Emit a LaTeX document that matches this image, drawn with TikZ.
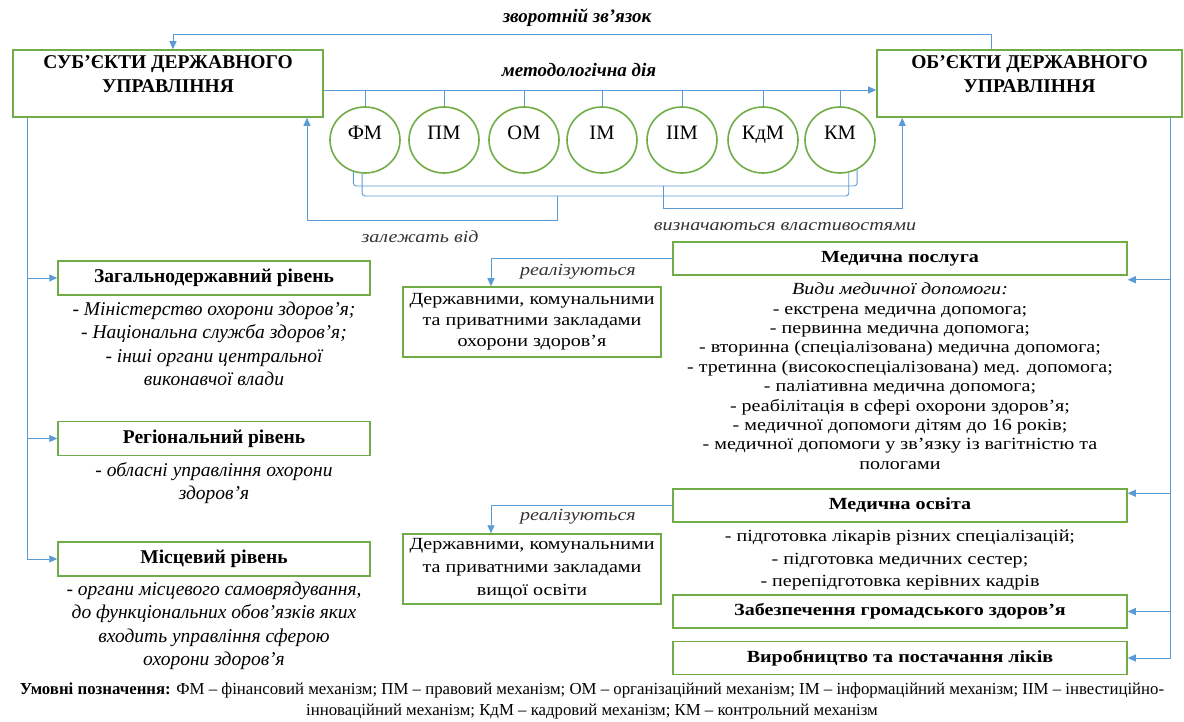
\documentclass[tikz,border=0pt]{standalone}
\usepackage{fontspec}
\setmainfont{Liberation Serif}
\newfontfamily\wideserif[FakeStretch=1.18]{Liberation Serif}
\usetikzlibrary{arrows.meta,shapes.geometric,positioning}
\definecolor{boxgreen}{HTML}{70AD47}
\definecolor{lineblue}{HTML}{5B9BD5}
\definecolor{labelgray}{HTML}{333333}

\begin{document}
\begin{tikzpicture}[x=1pt,y=-1pt,
    blueline/.style={draw=lineblue,line width=0.9pt},
    conn/.style={blueline,-{Triangle[length=8pt,width=7pt]}},
    headbox/.style={draw=boxgreen,line width=1.6pt,minimum width=#1,minimum height=67pt},
    headtext/.style={font=\fontsize{19.5}{24}\selectfont\bfseries,align=center,inner sep=0pt},
    mech/.style={ellipse,draw=boxgreen,line width=1.6pt,minimum width=70pt,minimum height=66pt,
      inner sep=0pt,text depth=14pt,font=\fontsize{20.5}{24}\selectfont},
    toplabel/.style={font=\fontsize{19}{22}\selectfont\bfseries\itshape},
    sidelabel/.style={text=labelgray,font=\wideserif\fontsize{17}{20}\selectfont\itshape},
    lvlbox/.style={draw=boxgreen,line width=1.5pt,minimum width=312pt,minimum height=34pt,
      font=\fontsize{19.5}{22}\selectfont\bfseries},
    lvltext/.style={font=\fontsize{19.5}{23.3}\selectfont\itshape,align=center,inner sep=0pt},
    srvbox/.style={draw=boxgreen,line width=1.5pt,minimum width=454pt,minimum height=33pt,
      font=\wideserif\fontsize{17}{20}\selectfont\bfseries},
    srvtext/.style={font=\wideserif\fontsize{17}{19.4}\selectfont,align=center,inner sep=0pt},
    instbox/.style={draw=boxgreen,line width=1.5pt,minimum width=258pt,minimum height=70pt,
      align=center,font=\wideserif\fontsize{17}{21}\selectfont},
    legend/.style={font=\fontsize{16.8}{21}\selectfont,align=center,inner sep=0pt}]
  \useasboundingbox (0,0) rectangle (1184,722);

  % Subjects and objects
  \node[headbox=310.4pt] (subj) at (168,83.5) {};
  \node[headtext,below=6pt of subj.north] {СУБ’ЄКТИ ДЕРЖАВНОГО\\УПРАВЛІННЯ};
  \node[headbox=305pt] (obj) at (1029.5,83.5) {};
  \node[headtext,below=6pt of obj.north] {ОБ’ЄКТИ ДЕРЖАВНОГО\\УПРАВЛІННЯ};

  % Feedback
  \draw[conn] ([xshift=-38pt]obj.north) -- ++(0,-15) -| ([xshift=5pt]subj.north);
  \node[toplabel] at (577,18) {зворотній зв'язок};

  % Mechanisms
  \foreach \n/\t/\x in {fm/ФМ/365,pm/ПМ/444,om/ОМ/524,im/ІМ/602,iim/ІІМ/682,kdm/КдМ/763,km/КМ/840}
    \node[mech] (\n) at (\x,140) {\t};

  % Methodological action
  \coordinate (mstart) at ([yshift=-6.5pt]subj.east);
  \draw[conn] (mstart) -- (mstart -| obj.west);
  \foreach \n in {fm,pm,om,im,iim,kdm,km}
    \draw[blueline] (\n.north) -- (\n.north |- mstart);
  \node[toplabel] at (579,70) {методологічна дія};

  % Brackets under the mechanisms
  \coordinate (brout) at (0,186);
  \coordinate (brin) at (0,196);
  \draw[blueline,rounded corners=3pt] (fm.250) |- (brout -| km.300) -- (km.300);
  \draw[blueline,rounded corners=3pt] (fm.265) |- (brin -| km.285) -- (km.285);
  \coordinate (dep) at (557,196);
  \coordinate (prop) at (663,186);
  \draw[conn] (dep) -- ++(0,24) -| ([xshift=-17pt]subj.south east);
  \draw[conn] (prop) -- ++(0,22) -| ([xshift=26pt]obj.south west);
  \node[sidelabel] at (420,237) {залежать від};
  \node[sidelabel] at (785,227) {визначаються властивостями};

  % Levels of governance
  \node[lvlbox] (zag) at (214,278) {Загальнодержавний рівень};
  \node[lvlbox] (reg) at (214,438.5) {Регіональний рівень};
  \node[lvlbox] (mis) at (214,559) {Місцевий рівень};
  \node[lvltext,below=6pt of zag] {- Міністерство охорони здоров’я;\\- Національна служба здоров’я;\\- інші органи центральної\\виконавчої влади};
  \node[lvltext,below=6pt of reg] {- обласні управління охорони\\здоров’я};
  \node[lvltext,below=5pt of mis] {- органи місцевого самоврядування,\\до функціональних обов’язків яких\\входить управління сферою\\охорони здоров’я};
  \coordinate (ltop) at ([xshift=15.4pt]subj.south west);
  \draw[blueline] (ltop) -- (ltop |- mis.west);
  \foreach \b in {zag,reg,mis}
    \draw[conn] (ltop |- \b.west) -- (\b.west);

  % Medical services
  \node[srvbox] (mp) at (900,258.5) {Медична послуга};
  \node[srvtext,below=7pt of mp] {\textit{Види медичної допомоги:}\\- екстрена медична допомога;\\- первинна медична допомога;\\- вторинна (спеціалізована) медична допомога;\\- третинна (високоспеціалізована) мед. допомога;\\- паліативна медична допомога;\\- реабілітація в сфері охорони здоров’я;\\- медичної допомоги дітям до 16 років;\\- медичної допомоги у зв’язку із вагітністю та\\пологами};
  \node[srvbox] (mo) at (900,505.5) {Медична освіта};
  \node[srvtext,below=7pt of mo,font=\wideserif\fontsize{17}{22.5}\selectfont] {- підготовка лікарів різних спеціалізацій;\\- підготовка медичних сестер;\\- перепідготовка керівних кадрів};
  \node[srvbox] (zg) at (900,611.5) {Забезпечення громадського здоров’я};
  \node[srvbox] (vp) at (900,658) {Виробництво та постачання ліків};

  % Institutions
  \node[instbox] (hosp) at (532,322) {Державними, комунальними\\та приватними закладами\\охорони здоров’я};
  \node[instbox,font=\wideserif\fontsize{17}{23}\selectfont] (univ) at (532,569) {Державними, комунальними\\та приватними закладами\\вищої освіти};
  \draw[conn] (mp.west) -| ([xshift=-41pt]hosp.north);
  \draw[conn] (mo.west) -| ([xshift=-41pt]univ.north);
  \node[sidelabel] at (578,272) {реалізуються};
  \node[sidelabel] at (578,517) {реалізуються};

  % Right trunk
  \coordinate (rtop) at ([xshift=-12pt]obj.south east);
  \coordinate (mpin) at ([yshift=-4pt]mp.south east);
  \coordinate (moin) at ([yshift=-5pt]mo.north east);
  \draw[blueline] (rtop) -- (rtop |- vp.east);
  \foreach \b in {mpin,moin,zg.east,vp.east}
    \draw[conn] (rtop |- \b) -- (\b);

  % Legend
  \node[legend] at (592,701) {\textbf{Умовні позначення:} ФМ – фінансовий механізм; ПМ – правовий механізм; ОМ – організаційний механізм; ІМ – інформаційний механізм; ІІМ – інвестиційно-\\інноваційний механізм; КдМ – кадровий механізм; КМ – контрольний механізм};
\end{tikzpicture}
\end{document}
